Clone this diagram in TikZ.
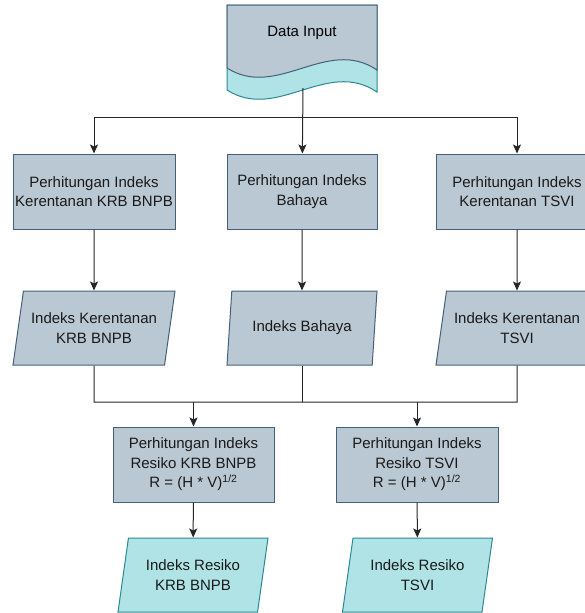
\documentclass[tikz,border=0pt]{standalone}
\usepackage{fontspec}
\setmainfont{Liberation Sans}
\usetikzlibrary{shapes.geometric,arrows.meta,positioning}
\definecolor{boxfill}{HTML}{BAC8D3}
\definecolor{boxline}{HTML}{45607A}
\definecolor{outfill}{HTML}{B0E3E6}
\definecolor{outline}{HTML}{2A8A92}
\definecolor{txt}{HTML}{1A1A1A}
\tikzset
{
    process/.style = {rectangle, draw=boxline, fill=boxfill, line width=1pt, align=center, text=txt, inner sep=0pt, minimum height=75pt},
    iobox/.style   = {trapezium, trapezium left angle=71, trapezium right angle=109, trapezium stretches body=true, draw=boxline, fill=boxfill, line width=1pt, align=center, text=txt, inner sep=0pt, minimum height=74pt},
    result/.style  = {iobox, draw=outline, fill=outfill},
    arrow/.style   = {line width=1pt, draw=black!85, -{Stealth[length=9pt,width=8pt,inset=2pt]}},
    line/.style    = {line width=1pt, draw=black!85}
}
\begin{document}
\begin{tikzpicture}[x=1pt, y=-1pt, every node/.style={font=\fontsize{15}{19.5}\selectfont}]
  \useasboundingbox (0,0) rectangle (585,613);

  % data input (document shape)
  \filldraw[fill=outfill, draw=outline, line width=1pt]
    (227,5) -- (377,5) -- (377,92)
    .. controls (327,58) and (277,122) .. (227,90) -- cycle;
  \filldraw[fill=boxfill, draw=boxline, line width=1pt]
    (227,5) -- (377,5) -- (377,70)
    .. controls (327,36) and (277,100) .. (227,68) -- cycle;
  \node (data) at (302,33) {Data Input};
  \coordinate (dataout) at (303,88);

  % first row: computation
  \node (hitkrb)  [process, minimum width=162pt] at (94,191.5)  {Perhitungan Indeks\\Kerentanan KRB BNPB};
  \node (hitbhy)  [process, minimum width=150pt] at (302,191.5) {Perhitungan Indeks\\Bahaya};
  \node (hittsvi) [process, minimum width=162pt] at (517,191.5) {Perhitungan Indeks\\Kerentanan TSVI};

  % second row: indices
  \node (idxkrb)  [iobox, minimum width=162pt] at (94,328)  {Indeks Kerentanan\\KRB BNPB};
  \node (idxbhy)  [iobox, minimum width=150pt] at (302,328) {Indeks Bahaya};
  \node (idxtsvi) [iobox, minimum width=162pt] at (517,328) {Indeks Kerentanan\\TSVI};

  % third row: risk
  \node (riskkrb)  [process, minimum width=161pt] at (193.5,464.5) {Perhitungan Indeks\\Resiko KRB BNPB\\R = (H * V)\textsuperscript{1/2}};
  \node (risktsvi) [process, minimum width=162pt] at (417,464.5)   {Perhitungan Indeks\\Resiko TSVI\\R = (H * V)\textsuperscript{1/2}};

  % results
  \node (outkrb)  [result, minimum width=150pt] at (193,575)   {Indeks Resiko\\KRB BNPB};
  \node (outtsvi) [result, minimum width=150pt] at (417.5,575) {Indeks Resiko\\TSVI};

  \coordinate (split) at (303,117);
  \coordinate (busl)  at (94,402);
  \coordinate (busr)  at (517,402);

  \draw[arrow] (dataout) -- (hitbhy);
  \draw[arrow] (split) -| (hitkrb);
  \draw[arrow] (split) -| (hittsvi);
  \draw[arrow] (hitkrb) -- (idxkrb);
  \draw[arrow] (hitbhy) -- (idxbhy);
  \draw[arrow] (hittsvi) -- (idxtsvi);
  \draw[line] (idxkrb.south) -- (busl) -- (busr) -- (idxtsvi.south);
  \draw[line] (idxbhy.south) -- (idxbhy.south |- busl);
  \draw[arrow] (riskkrb.north |- busl) -- (riskkrb);
  \draw[arrow] (risktsvi.north |- busl) -- (risktsvi);
  \draw[arrow] (riskkrb) -- (outkrb);
  \draw[arrow] (risktsvi) -- (outtsvi);
\end{tikzpicture}
\end{document}
